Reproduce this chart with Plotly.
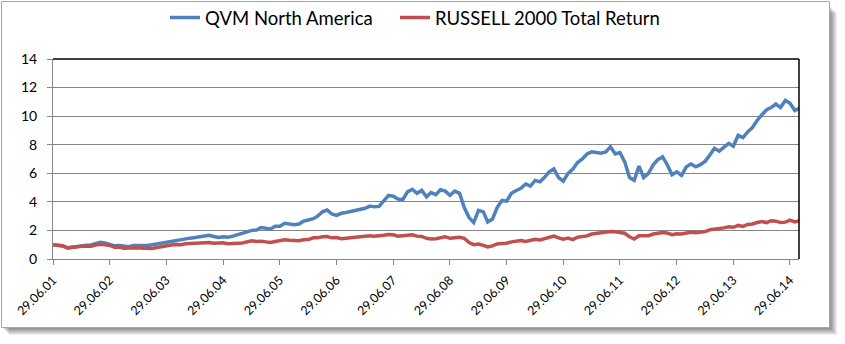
import pandas as pd
import plotly.graph_objects as go

# ---- data (month-end values) ----
dates = pd.date_range("2001-06-30", "2014-08-31", freq="ME")

qvm = [
    # 2001 Jun-Dec
    1.00, 0.97, 0.90, 0.78, 0.83, 0.90, 0.95,
    # 2002
    0.96, 0.98, 1.08, 1.17, 1.12, 1.05, 0.92, 0.94, 0.87, 0.86, 0.95, 0.93,
    # 2003
    0.97, 0.95, 1.00, 1.06, 1.15, 1.21, 1.27, 1.33, 1.35, 1.42, 1.46, 1.50,
    # 2004
    1.56, 1.62, 1.66, 1.58, 1.50, 1.56, 1.52, 1.60, 1.68, 1.80, 1.90, 2.00,
    # 2005
    2.03, 2.20, 2.15, 2.10, 2.30, 2.30, 2.50, 2.45, 2.40, 2.45, 2.65, 2.73,
    # 2006
    2.82, 3.00, 3.30, 3.43, 3.15, 3.05, 3.20, 3.25, 3.32, 3.45, 3.50, 3.55,
    # 2007
    3.70, 3.65, 3.68, 4.10, 4.45, 4.40, 4.20, 4.15, 4.70, 4.88, 4.60, 4.80,
    # 2008
    4.35, 4.65, 4.50, 4.85, 4.75, 4.45, 4.75, 4.60, 3.60, 2.90, 2.55, 3.40,
    # 2009
    3.30, 2.60, 2.80, 3.60, 4.10, 4.05, 4.60, 4.80, 4.95, 5.25, 5.10, 5.50,
    # 2010
    5.40, 5.70, 6.10, 6.30, 5.70, 5.45, 6.00, 6.30, 6.75, 7.00, 7.35, 7.50,
    # 2011
    7.45, 7.40, 7.50, 7.85, 7.35, 7.45, 6.80, 5.70, 5.50, 6.50, 5.70, 6.00,
    # 2012
    6.60, 6.95, 7.15, 6.60, 5.90, 6.10, 5.85, 6.45, 6.65, 6.45, 6.60, 6.85,
    # 2013
    7.30, 7.75, 7.55, 7.80, 8.10, 7.90, 8.65, 8.50, 8.90, 9.20, 9.70, 10.10,
    # 2014 Jan-Aug
    10.45, 10.60, 10.85, 10.60, 11.10, 10.90, 10.40, 10.55,
]

russell = [
    # 2001 Jun-Dec
    1.00, 0.97, 0.93, 0.78, 0.83, 0.88, 0.90,
    # 2002
    0.90, 0.90, 0.98, 1.03, 1.00, 0.95, 0.82, 0.82, 0.75, 0.76, 0.82, 0.78,
    # 2003
    0.76, 0.73, 0.73, 0.80, 0.88, 0.92, 0.98, 1.02, 1.00, 1.07, 1.10, 1.12,
    # 2004
    1.15, 1.17, 1.16, 1.10, 1.10, 1.14, 1.06, 1.05, 1.10, 1.12, 1.22, 1.28,
    # 2005
    1.22, 1.25, 1.20, 1.15, 1.22, 1.27, 1.35, 1.32, 1.32, 1.28, 1.35, 1.36,
    # 2006
    1.48, 1.48, 1.55, 1.57, 1.48, 1.50, 1.42, 1.46, 1.50, 1.55, 1.60, 1.60,
    # 2007
    1.63, 1.60, 1.62, 1.66, 1.72, 1.70, 1.60, 1.62, 1.66, 1.70, 1.60, 1.58,
    # 2008
    1.45, 1.40, 1.42, 1.50, 1.56, 1.45, 1.48, 1.52, 1.45, 1.15, 1.00, 1.05,
    # 2009
    0.95, 0.85, 0.92, 1.05, 1.08, 1.10, 1.20, 1.25, 1.30, 1.22, 1.28, 1.38,
    # 2010
    1.33, 1.40, 1.50, 1.60, 1.48, 1.38, 1.46, 1.36, 1.52, 1.58, 1.62, 1.75,
    # 2011
    1.80, 1.85, 1.88, 1.93, 1.90, 1.87, 1.80, 1.55, 1.40, 1.62, 1.60, 1.63,
    # 2012
    1.75, 1.80, 1.85, 1.82, 1.70, 1.77, 1.75, 1.82, 1.87, 1.83, 1.85, 1.92,
    # 2013
    2.05, 2.08, 2.15, 2.18, 2.25, 2.22, 2.35, 2.28, 2.42, 2.45, 2.55, 2.62,
    # 2014 Jan-Aug
    2.55, 2.68, 2.65, 2.55, 2.58, 2.72, 2.60, 2.68,
]

tick_dates = ["2001-06-29", "2002-06-29", "2003-06-29", "2004-06-29", "2005-06-29",
              "2006-06-29", "2007-06-29", "2008-06-29", "2009-06-29", "2010-06-29",
              "2011-06-29", "2012-06-29", "2013-06-29", "2014-06-29"]
tick_labels = ["29.06.01", "29.06.02", "29.06.03", "29.06.04", "29.06.05",
               "29.06.06", "29.06.07", "29.06.08", "29.06.09", "29.06.10",
               "29.06.11", "29.06.12", "29.06.13", "29.06.14"]
y_ticks = [0, 2, 4, 6, 8, 10, 12, 14]

series_names = ["QVM North America", "RUSSELL 2000 Total Return"]
series_colors = ["#4F81BD", "#C0504D"]
legend_ids = ["legend", "legend2"]

# ---- figure ----
W, H = 845, 344
L, R, T, B = 53, 46, 59, 85
pw, ph = W - L - R, H - T - B


def px_x(x):
    return (x - L) / pw


def px_y(y):
    return (H - B - y) / ph


fig = go.Figure()
for name, vals, col, lg in zip(series_names, [qvm, russell], series_colors, legend_ids):
    fig.add_trace(go.Scatter(x=dates, y=vals, mode="lines", name=name, legend=lg,
                             line=dict(color=col, width=3.5)))

shapes = []
# drop shadow
for i in range(1, 9):
    shapes.append(dict(type="rect", xref="paper", yref="paper", layer="below",
                       x0=px_x(1 + i), x1=px_x(829 + i), y0=px_y(1 + i + 4), y1=px_y(327 + i),
                       fillcolor="rgba(0,0,0,0.07)", line=dict(width=0)))
# chart frame
shapes.append(dict(type="rect", xref="paper", yref="paper", layer="below",
                   x0=px_x(1.5), x1=px_x(829.5), y0=px_y(1.5), y1=px_y(327.5),
                   fillcolor="white", line=dict(color="#A6A6A6", width=1)))
# plot-area border (top & right)
shapes.append(dict(type="line", xref="paper", yref="paper", x0=0, x1=1, y0=1, y1=1,
                   line=dict(color="black", width=1.5)))
shapes.append(dict(type="line", xref="paper", yref="paper", x0=1, x1=1, y0=0, y1=1,
                   line=dict(color="black", width=1.5)))

legend_common = dict(orientation="h", y=px_y(18), xanchor="left", yanchor="middle",
                     font=dict(size=18.5), bgcolor="rgba(0,0,0,0)", itemwidth=30)

fig.update_layout(
    width=W, height=H,
    margin=dict(l=L, r=R, t=T, b=B, autoexpand=False),
    paper_bgcolor="white",
    plot_bgcolor="rgba(0,0,0,0)",
    font=dict(family="Lato", size=14, color="black"),
    shapes=shapes,
    showlegend=True,
    legend=dict(x=px_x(165), **legend_common),
    legend2=dict(x=px_x(395), **legend_common),
    xaxis=dict(type="date", range=["2001-06-29", "2014-08-27"],
               tickvals=tick_dates, ticktext=tick_labels, tickangle=-45,
               showgrid=False, showline=True, linecolor="#868686", linewidth=1,
               ticks="outside", ticklen=5, tickcolor="#868686", zeroline=False,
               ticklabelstandoff=3, tickfont=dict(size=12.5)),
    yaxis=dict(range=[0, 14], tickvals=y_ticks, showgrid=True, gridcolor="#868686",
               gridwidth=1, showline=True, linecolor="#868686", linewidth=1,
               ticks="outside", ticklen=5, tickcolor="#868686", zeroline=False,
               ticklabelstandoff=7, tickfont=dict(size=14)),
)

fig.write_html("out.html")
